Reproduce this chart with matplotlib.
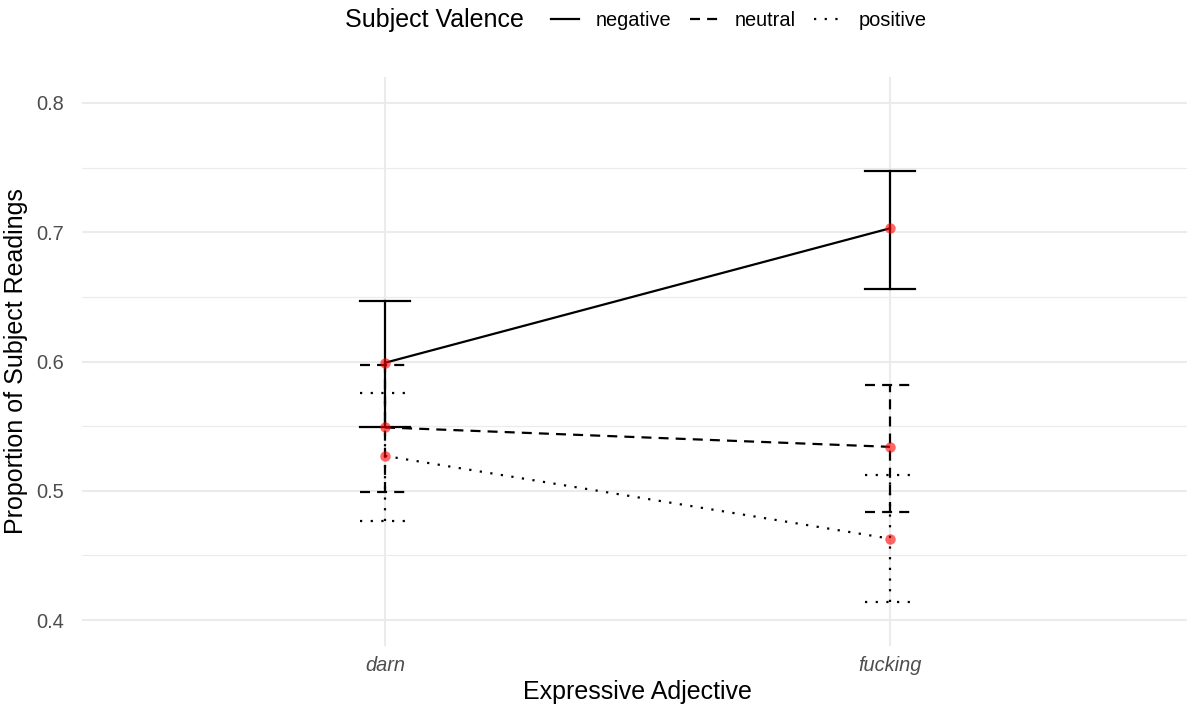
import matplotlib
matplotlib.use("Agg")
import matplotlib.pyplot as plt
from matplotlib.lines import Line2D
import numpy as np

plt.rcParams['font.family'] = ['Liberation Sans', 'DejaVu Sans']

adjectives = ["darn", "fucking"]
valences = ["negative", "neutral", "positive"]
means = {
    "negative": [0.599, 0.703],
    "neutral":  [0.549, 0.534],
    "positive": [0.527, 0.463],
}
upper = {
    "negative": [0.647, 0.747],
    "neutral":  [0.597, 0.582],
    "positive": [0.576, 0.512],
}
lower = {
    "negative": [0.549, 0.656],
    "neutral":  [0.499, 0.484],
    "positive": [0.477, 0.414],
}
styles = {
    "negative": "solid",
    "neutral": (0, (4.5, 3.2)),
    "positive": (0, (1, 3.8)),
}

W, H = 1187, 709
fig = plt.figure(figsize=(W / 100, H / 100), dpi=100)
ax = fig.add_axes([82 / W, (H - 646) / H, (1193 - 82) / W, (646 - 77) / H])

x = np.arange(1, len(adjectives) + 1)
lw = 1.6
cap = 0.05

for v in valences:
    ls = styles[v]
    ax.plot(x, means[v], color='black', linestyle=ls, linewidth=lw, zorder=3)
    for xi, lo, hi in zip(x, lower[v], upper[v]):
        ax.plot([xi, xi], [lo, hi], color='black', linestyle=ls, linewidth=lw, zorder=3)
        ax.plot([xi - cap, xi + cap], [hi, hi], color='black', linestyle=ls, linewidth=lw, zorder=3)
        ax.plot([xi - cap, xi + cap], [lo, lo], color='black', linestyle=ls, linewidth=lw, zorder=3)
    ax.plot(x, means[v], 'o', color='red', alpha=0.6, markersize=7.5,
            markeredgewidth=0, zorder=4)

ax.set_xlim(0.4, 2.6)
ax.set_ylim(0.38, 0.82)
ax.set_xticks(x)
ax.set_xticklabels(adjectives, fontstyle='italic')
ax.set_yticks([0.4, 0.5, 0.6, 0.7, 0.8])
ax.set_yticks([0.45, 0.55, 0.65, 0.75], minor=True)
ax.tick_params(axis='both', which='both', length=0, labelsize=14.4, labelcolor='#4D4D4D')
ax.tick_params(axis='y', pad=13)
ax.tick_params(axis='x', pad=7)

ax.grid(which='major', color='#EBEBEB', linewidth=1.5)
ax.grid(which='minor', axis='y', color='#EBEBEB', linewidth=0.8)
ax.set_axisbelow(True)
for s in ax.spines.values():
    s.set_visible(False)

ax.set_xlabel("Expressive Adjective", fontsize=18, labelpad=4)
ax.set_ylabel("Proportion of Subject Readings", fontsize=18, labelpad=6)

# legend on top, title to the left
fig.text(345 / W, 1 - 20 / H, "Subject Valence", fontsize=18, ha='left', va='center')
handles = [Line2D([], [], color='black', linestyle=styles[v], linewidth=lw) for v in valences]
fig.legend(handles, valences, ncol=3, loc='center left',
           bbox_to_anchor=(551 / W, 1 - 20 / H), frameon=False, fontsize=14.4,
           handlelength=1.4, handletextpad=0.85, columnspacing=0.9,
           borderaxespad=0, borderpad=0)

fig.savefig("out.png", dpi=100)
